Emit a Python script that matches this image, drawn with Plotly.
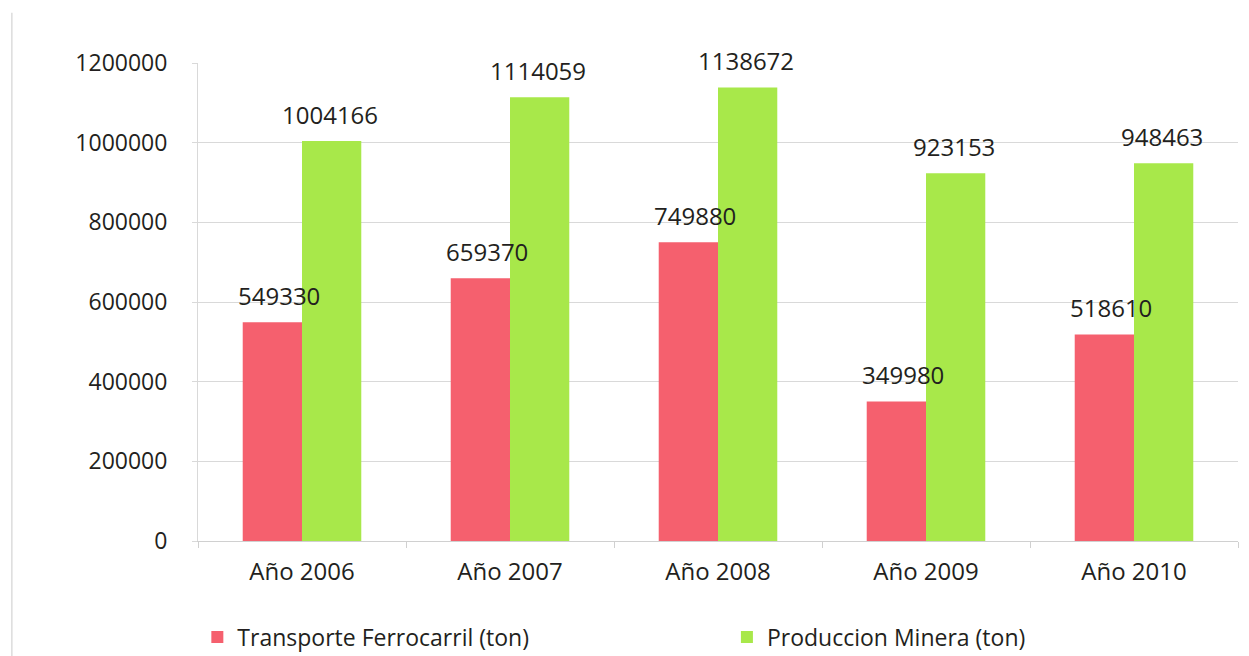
import plotly.graph_objects as go

categories = ["Año 2006", "Año 2007", "Año 2008", "Año 2009", "Año 2010"]
transporte = [549330, 659370, 749880, 349980, 518610]
produccion = [1004166, 1114059, 1138672, 923153, 948463]
tick_vals = [0, 200000, 400000, 600000, 800000, 1000000, 1200000]

RED = "#F5606E"
GREEN = "#A8E84A"
FONT = "Open Sans"
TXT = "#231f20"

fig = go.Figure()
fig.add_trace(go.Bar(x=categories, y=transporte, name="Transporte Ferrocarril (ton)",
                     marker=dict(color=RED, line=dict(width=0)), legend="legend"))
fig.add_trace(go.Bar(x=categories, y=produccion, name="Produccion Minera (ton)",
                     marker=dict(color=GREEN, line=dict(width=0)), legend="legend2"))

ann = []
for i, c in enumerate(categories):
    ann.append(dict(x=c, y=transporte[i], xref="x", yref="y", text=str(transporte[i]),
                    showarrow=False, yshift=27, xshift=-23,
                    font=dict(family=FONT, size=24, color=TXT)))
    ann.append(dict(x=c, y=produccion[i], xref="x", yref="y", text=str(produccion[i]),
                    showarrow=False, yshift=27, xshift=28,
                    font=dict(family=FONT, size=24, color=TXT)))

leg_common = dict(orientation="h", xanchor="left", xref="container",
                  y=0.029, yanchor="middle", yref="container",
                  font=dict(family=FONT, size=23, color=TXT), itemwidth=30,
                  bgcolor="rgba(0,0,0,0)")

fig.update_layout(
    width=1249, height=656,
    margin=dict(l=198, r=11, t=63, b=115, autoexpand=False),
    paper_bgcolor="white", plot_bgcolor="white",
    barmode="group", bargap=0.43, bargroupgap=0,
    font=dict(family=FONT, size=21, color=TXT),
    annotations=ann,
    showlegend=True,
    legend=dict(x=0.158, **leg_common),
    legend2=dict(x=0.582, **leg_common),
    shapes=[dict(type="line", xref="paper", yref="paper", x0=-0.179, x1=-0.179, y0=-0.25, y1=1.105,
                 line=dict(color="#dcdcdc", width=1.5))],
)
fig.update_yaxes(range=[0, 1200000], tickvals=tick_vals, ticktext=[str(v) for v in tick_vals],
                 showgrid=True, gridcolor="#d9d9d9", gridwidth=1,
                 showline=True, linecolor="#d9d9d9", ticks="outside", ticklen=5,
                 tickcolor="#d9d9d9", ticklabelstandoff=20, zeroline=False,
                 tickfont=dict(family=FONT, size=23, color=TXT))
fig.update_xaxes(showline=True, linecolor="#d0d0d0", ticks="outside", ticklen=6,
                 tickcolor="#d0d0d0", tickson="boundaries", ticklabelstandoff=9,
                 tickfont=dict(family=FONT, size=24, color=TXT))

fig.write_html("out.html")
